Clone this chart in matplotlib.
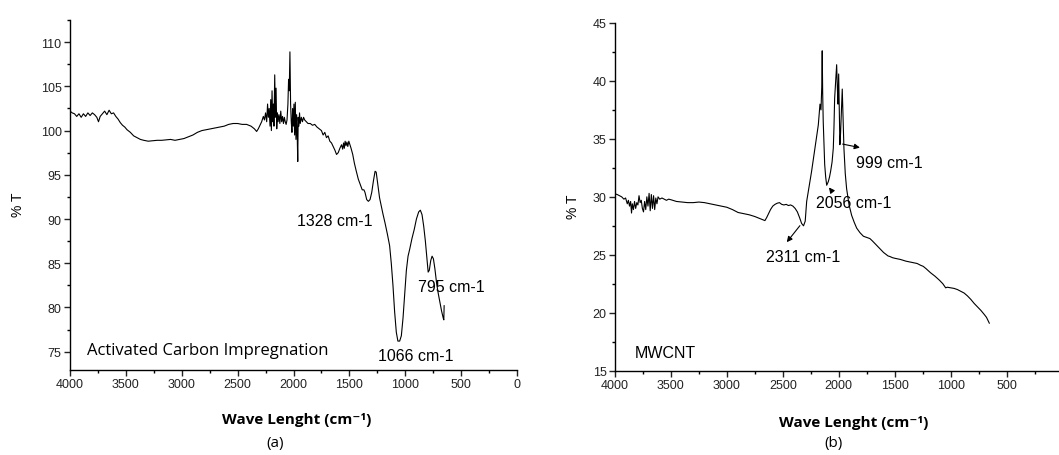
import matplotlib
matplotlib.use('Agg')
from matplotlib import pyplot as plt
from matplotlib.ticker import MultipleLocator

# (a) activated carbon impregnation - wavenumber, %T
ac_wave = [4000, 3980, 3960, 3940, 3920, 3900, 3880, 3860, 3840, 3820, 3800, 3780, 3760, 3745, 3730,
           3710, 3690, 3670, 3650, 3630, 3610, 3590, 3570, 3550, 3530, 3510, 3490, 3460, 3430, 3400,
           3370, 3340, 3300, 3260, 3220, 3180, 3140, 3100, 3060, 3020, 2980, 2940, 2900, 2860, 2820,
           2780, 2740, 2700, 2660, 2620, 2580, 2540, 2500, 2460, 2420, 2380, 2350, 2330, 2315, 2300,
           2285, 2270, 2260, 2250, 2240, 2232, 2225, 2218, 2210, 2204, 2198, 2192, 2186, 2180, 2175,
           2168, 2162, 2156, 2150, 2144, 2138, 2130, 2122, 2114, 2106, 2098, 2090, 2082, 2074, 2066,
           2058, 2050, 2044, 2038, 2032, 2026, 2020, 2014, 2008, 2002, 1996, 1990, 1984, 1978, 1972,
           1966, 1962, 1958, 1952, 1946, 1940, 1930, 1920, 1910, 1900, 1885, 1870, 1850, 1830, 1810,
           1790, 1770, 1750, 1735, 1720, 1705, 1690, 1675, 1660, 1645, 1630, 1615, 1600, 1585, 1570,
           1560, 1552, 1545, 1538, 1530, 1522, 1514, 1505, 1495, 1485, 1470, 1455, 1440, 1420, 1400,
           1385, 1370, 1360, 1345, 1330, 1315, 1300, 1285, 1270, 1260, 1245, 1230, 1215, 1200, 1180,
           1160, 1140, 1125, 1110, 1095, 1080, 1066, 1050, 1035, 1020, 1005, 990, 975, 960, 940,
           920, 900, 880, 865, 850, 835, 820, 805, 795, 785, 772, 760, 748, 735, 720,
           705, 690, 675, 660, 655, 652]
ac_T = [102.2, 102.0, 101.9, 101.6, 101.9, 101.5, 101.9, 101.6, 102.0, 101.7, 102.0, 101.8, 101.5, 101.0, 101.6,
        101.9, 102.2, 101.8, 102.3, 101.9, 102.0, 101.6, 101.3, 100.9, 100.6, 100.4, 100.1, 99.8, 99.4, 99.2,
        99.0, 98.9, 98.8, 98.85, 98.9, 98.9, 98.95, 99.0, 98.9, 99.0, 99.1, 99.3, 99.5, 99.8, 100.0,
        100.1, 100.2, 100.3, 100.4, 100.5, 100.7, 100.8, 100.8, 100.7, 100.7, 100.5, 100.2, 99.9, 100.2, 100.6,
        101.0, 101.6, 101.2, 102.0, 101.0, 103.0, 101.5, 102.5, 100.5, 103.5, 100.0, 104.5, 101.0, 103.0, 100.5,
        106.3, 101.5, 104.8, 100.2, 102.0, 101.0, 101.8, 100.8, 102.2, 101.0, 101.6, 100.8, 101.5, 101.0, 100.7,
        101.2, 103.0, 105.8, 104.5, 108.9, 103.0, 101.0, 99.8, 102.5, 100.5, 103.0, 99.5, 103.2, 99.0, 101.8,
        99.0, 96.5, 101.5, 100.5, 102.0, 100.8, 101.5, 101.0, 101.5, 101.2, 101.0, 100.8, 100.8, 100.6, 100.7,
        100.4, 100.2, 100.0, 99.5, 99.8, 99.2, 99.4, 98.8, 98.6, 98.2, 97.8, 97.3, 97.5, 98.0, 98.4,
        97.9, 98.6, 98.0, 98.8, 98.3, 98.7, 98.2, 98.8, 98.4, 98.0, 97.3, 96.3, 95.5, 94.5, 93.8,
        93.3, 93.3, 93.0, 92.2, 92.0, 92.2, 93.0, 94.3, 95.4, 95.3, 93.8, 92.4, 91.5, 90.6, 89.5,
        88.3, 87.0, 85.0, 82.5, 79.5, 77.2, 76.2, 76.2, 76.8, 78.8, 81.5, 84.2, 85.8, 86.6, 87.8,
        88.8, 90.0, 90.8, 91.0, 90.5, 89.2, 87.5, 85.4, 84.0, 84.2, 85.3, 85.8, 85.5, 84.4, 82.8,
        81.6, 80.6, 79.6, 78.8, 78.6, 80.2]

# (b) MWCNT - wavenumber, %T
cnt_wave = [4000, 3980, 3960, 3940, 3920, 3905, 3890, 3880, 3870, 3860, 3852, 3845, 3835, 3825, 3815,
            3805, 3795, 3785, 3775, 3765, 3755, 3745, 3735, 3725, 3715, 3705, 3695, 3685, 3675, 3665,
            3655, 3645, 3635, 3625, 3615, 3600, 3580, 3560, 3540, 3520, 3500, 3450, 3400, 3350, 3300,
            3250, 3200, 3150, 3100, 3050, 3000, 2950, 2900, 2850, 2800, 2750, 2700, 2660, 2645, 2630,
            2610, 2590, 2570, 2550, 2530, 2510, 2490, 2470, 2450, 2430, 2410, 2390, 2370, 2350, 2332,
            2315, 2300, 2287, 2265, 2243, 2228, 2213, 2198, 2183, 2168, 2159, 2152, 2148, 2144, 2139,
            2132, 2126, 2117, 2108, 2094, 2083, 2073, 2060, 2049, 2043, 2037, 2028, 2019, 2013, 2007,
            2001, 1995, 1990, 1984, 1978, 1969, 1962, 1954, 1942, 1930, 1908, 1885, 1862, 1840, 1810,
            1780, 1750, 1722, 1700, 1680, 1660, 1640, 1620, 1600, 1580, 1560, 1543, 1520, 1500, 1450,
            1400, 1350, 1300, 1270, 1245, 1220, 1180, 1140, 1100, 1070, 1045, 1030, 1000, 970, 940,
            910, 880, 850, 820, 790, 760, 730, 700, 680, 665, 655]
cnt_T = [30.26, 30.2, 30.1, 30.0, 29.8, 29.9, 29.4, 29.7, 29.2, 29.6, 28.6, 29.4, 28.9, 29.6, 29.0,
         29.5, 29.3, 30.1, 29.5, 29.7, 29.0, 28.7, 29.6, 28.9, 30.0, 29.2, 30.3, 28.8, 30.2, 29.0,
         30.1, 28.9, 29.9, 29.4, 30.0, 29.8, 29.9, 29.8, 29.7, 29.8, 29.75, 29.6, 29.55, 29.5, 29.5,
         29.55, 29.5, 29.4, 29.3, 29.2, 29.1, 28.9, 28.65, 28.55, 28.45, 28.3, 28.1, 27.95, 28.2, 28.5,
         28.9, 29.2, 29.35, 29.45, 29.5, 29.35, 29.3, 29.35, 29.25, 29.3, 29.2, 29.0, 28.7, 28.2, 27.7,
         27.5, 27.9, 29.6, 30.9, 32.2, 33.2, 34.2, 35.2, 36.2, 38.0, 37.5, 39.5, 42.6, 39.0, 36.5,
         34.5, 32.8, 31.7, 31.0, 31.3, 31.7, 32.2, 33.0, 34.2, 36.0, 38.5, 40.0, 41.4, 39.5, 38.0,
         40.6, 37.0, 34.5, 35.5, 37.1, 39.3, 37.0, 34.2, 32.0, 30.7, 29.3, 28.4, 27.8, 27.3, 26.9,
         26.6, 26.5, 26.4, 26.2, 26.0, 25.8, 25.6, 25.4, 25.2, 25.05, 24.9, 24.85, 24.75, 24.7, 24.6,
         24.45, 24.35, 24.25, 24.1, 24.0, 23.8, 23.45, 23.15, 22.8, 22.5, 22.15, 22.2, 22.15, 22.1, 22.0,
         21.85, 21.7, 21.45, 21.15, 20.8, 20.5, 20.2, 19.85, 19.6, 19.3, 19.1]

x_ticks = [4000, 3500, 3000, 2500, 2000, 1500, 1000, 500, 0]

sans = ['Liberation Sans', 'DejaVu Sans']
soft = ['Open Sans', 'DejaVu Sans']

fig = plt.figure(figsize=(10.59, 4.56), dpi=100)
ax1 = fig.add_axes([0.0661, 0.1864, 0.4221, 0.7675])
ax2 = fig.add_axes([0.5807, 0.1849, 0.4227, 0.7625])

for ax in (ax1, ax2):
    ax.spines['top'].set_visible(False)
    ax.spines['right'].set_visible(False)
    ax.spines['left'].set_linewidth(1.0)
    ax.spines['bottom'].set_linewidth(1.0)
    ax.set_xlim(4000, 0)
    ax.set_xticks(x_ticks)
    ax.xaxis.set_minor_locator(MultipleLocator(250))
    ax.yaxis.set_minor_locator(MultipleLocator(2.5))
    ax.tick_params(which='major', direction='out', length=4, width=1, pad=2, labelsize=9, colors='#222222')
    ax.tick_params(which='minor', direction='out', length=2.5, width=1)

# panel (a)
ax1.plot(ac_wave, ac_T, color='black', lw=0.8)
ax1.set_ylim(72.93, 112.5)
ax1.set_yticks([75, 80, 85, 90, 95, 100, 105, 110])
ax1.text(1970, 89.8, '1328 cm-1', fontsize=11.5, family=sans, va='center')
ax1.text(882, 82.4, '795 cm-1', fontsize=11.5, family=sans, va='center')
ax1.text(1245, 74.56, '1066 cm-1', fontsize=11.5, family=sans, va='center')
ax1.text(3851, 75.2, 'Activated Carbon Impregnation', fontsize=12, family=soft, va='center')
ax1.text(-0.116, 0.474, '% T', rotation=90, fontsize=10, family=sans,
         ha='center', va='center', transform=ax1.transAxes)
ax1.text(0.508, -0.14, 'Wave Lenght (cm⁻¹)', fontsize=11, fontweight='bold', family=soft,
         ha='center', va='center', transform=ax1.transAxes)
ax1.text(0.459, -0.207, '(a)', fontsize=11, family=soft, ha='center', va='center',
         transform=ax1.transAxes)

# panel (b)
ax2.plot(cnt_wave, cnt_T, color='black', lw=0.8)
ax2.set_ylim(15, 45)
ax2.set_yticks([15, 20, 25, 30, 35, 40, 45])
arrow = dict(arrowstyle='-|>', color='black', lw=0.8, mutation_scale=8)
ax2.annotate('', xy=(1787, 34.2), xytext=(1990, 34.6), arrowprops=arrow)
ax2.annotate('', xy=(2103, 31.0), xytext=(2055, 30.4), arrowprops=arrow)
ax2.annotate('', xy=(2480, 25.9), xytext=(2332, 27.7), arrowprops=arrow)
ax2.text(1845, 33.0, '999 cm-1', fontsize=11.5, family=sans, va='center')
ax2.text(2204, 29.5, '2056 cm-1', fontsize=11.5, family=sans, va='center')
ax2.text(2649, 24.85, '2311 cm-1', fontsize=11.5, family=sans, va='center')
ax2.text(3827, 16.6, 'MWCNT', fontsize=11.5, family=sans, va='center')
ax2.text(-0.094, 0.474, '% T', rotation=90, fontsize=10, family=sans,
         ha='center', va='center', transform=ax2.transAxes)
ax2.text(0.534, -0.1475, 'Wave Lenght (cm⁻¹)', fontsize=11, fontweight='bold', family=soft,
         ha='center', va='center', transform=ax2.transAxes)
ax2.text(0.489, -0.206, '(b)', fontsize=11, family=soft, ha='center', va='center',
         transform=ax2.transAxes)

for ax in (ax1, ax2):
    for lab in ax.get_xticklabels() + ax.get_yticklabels():
        lab.set_family(sans)

fig.savefig('out.png', dpi=100)
plt.close(fig)
